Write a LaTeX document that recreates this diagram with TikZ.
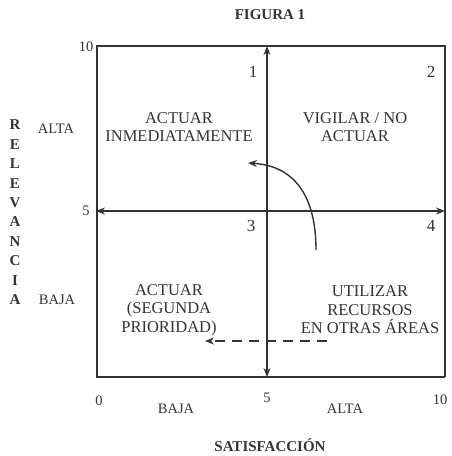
\documentclass[tikz,border=0pt]{standalone}
\usepackage{fontspec}
\setmainfont{Liberation Serif}
\usetikzlibrary{arrows.meta}
\definecolor{ink}{HTML}{333333}
\begin{document}
\begin{tikzpicture}[x=1pt,y=-1pt,
  line width=1.4pt, draw=ink, text=ink,
  lbl/.style={font=\fontsize{16.5}{18.5}\selectfont, align=center, inner sep=0pt},
  num/.style={font=\fontsize{17}{19}\selectfont, inner sep=0pt},
  small/.style={font=\fontsize{14.5}{16}\selectfont, inner sep=0pt},
  bold/.style={font=\bfseries\fontsize{15}{17}\selectfont, inner sep=0pt},
  tip/.style={-{Stealth[length=9pt,width=7pt]}},
  dtip/.style={{Stealth[length=9pt,width=7pt]}-{Stealth[length=9pt,width=7pt]}}]
\useasboundingbox (0,0) rectangle (452,456);
% frame
\coordinate (TL) at (97,46);
\coordinate (TR) at (445,46);
\coordinate (BL) at (97,377);
\coordinate (BR) at (445,377);
\draw (BR) -- (BL) -- (TL) -- (TR) -- (BR);
% axes
\coordinate (vt) at (267,46);
\coordinate (vb) at (267,377);
\coordinate (hl) at (96,211);
\coordinate (hr) at (445,211);
\draw[dtip] (vb) -- (vt);
\draw[dtip] (hl) -- (hr);
% curved arrow
\coordinate (cs) at (316,250);
\coordinate (ce) at (248,163);
\draw[tip] (cs) .. controls (316,198) and (296,166) .. (ce);
% dashed arrow
\coordinate (ds) at (327,341);
\coordinate (de) at (205,341);
\draw[tip, dash pattern=on 10pt off 7pt] (ds) -- (de);
% title
\node[bold] (title) at (270,15) {FIGURA 1};
% axis numbers
\node[small] (y10) at (86,47) {10};
\node[small] (y5) at (86,211) {5};
\node[small] (x0) at (99,401) {0};
\node[small] (x5) at (267,398) {5};
\node[small] (x10) at (440,400) {10};
\node[small] (xbaja) at (176,409) {BAJA};
\node[small] (xalta) at (345,409) {ALTA};
\node[bold, anchor=base] (xlab) at (270,451) {SATISFACCIÓN};
\node[small] (yalta) at (56,129) {ALTA};
\node[small] (ybaja) at (57,300) {BAJA};
% vertical RELEVANCIA
\foreach \c [count=\i from 0] in {R,E,L,E,V,A,N,C,I,A}{
  \node[bold] (rel\i) at (15,125+19.4*\i) {\c};
}
% quadrant numbers
\node[num] (q1) at (253,72) {1};
\node[num] (q2) at (431,72) {2};
\node[num] (q3) at (251,226) {3};
\node[num] (q4) at (431,226) {4};
% quadrant texts
\node[lbl] (t1) at (179,127) {ACTUAR\\INMEDIATAMENTE};
\node[lbl] (t2) at (355,127) {VIGILAR / NO\\ACTUAR};
\node[lbl] (t3) at (169,310) {ACTUAR\\(SEGUNDA\\PRIORIDAD)};
\node[lbl] (t4) at (370,310) {UTILIZAR\\RECURSOS\\EN OTRAS ÁREAS};
\end{tikzpicture}
\end{document}
